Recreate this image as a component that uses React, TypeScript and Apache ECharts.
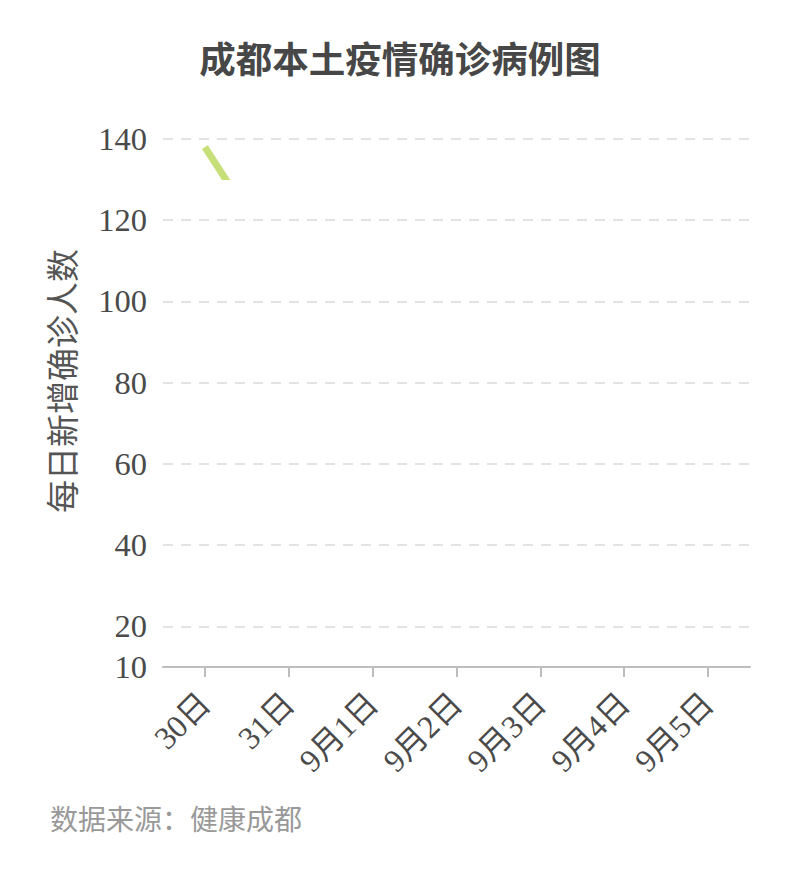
import React, { useEffect, useRef } from 'react';
import * as echarts from 'echarts';

const dates = ['30日', '31日', '9月1日', '9月2日', '9月3日', '9月4日', '9月5日'];
const dailyCases = [138, 106, 104, 105, 72, 90, 59];
const yMin = 10;
const yMax = 140;

const SERIF = '"Liberation Serif", "Noto Sans CJK SC", serif';

export default function App() {
  const chartRef = useRef<HTMLDivElement>(null);

  useEffect(() => {
    if (!chartRef.current) return;
    document.body.style.margin = '0';
    const chart = echarts.init(chartRef.current, undefined, { renderer: 'svg' });

    const option: echarts.EChartsOption = {
      animation: false,
      backgroundColor: '#fff',
      title: {
        text: '成都本土疫情确诊病例图',
        left: 'center',
        top: 34,
        textStyle: {
          fontFamily: '"Noto Sans CJK SC", sans-serif',
          fontSize: 36.5,
          fontWeight: 'bold',
          color: '#474747',
        },
      },
      grid: { left: 163, right: 50, top: 139, bottom: 218 },
      xAxis: {
        type: 'category',
        data: dates,
        boundaryGap: true,
        axisLine: { show: true, lineStyle: { color: '#bdbdbd', width: 2 } },
        axisTick: {
          show: true,
          alignWithLabel: true,
          length: 10,
          lineStyle: { color: '#bdbdbd', width: 2 },
        },
        axisLabel: {
          interval: 0,
          rotate: 45,
          margin: 31,
          fontSize: 32,
          color: '#4a4a4a',
          fontFamily: SERIF,
        },
      },
      yAxis: {
        type: 'value',
        min: yMin,
        max: yMax,
        minInterval: 20,
        maxInterval: 20,
        name: '每日新增确诊人数',
        nameLocation: 'middle',
        nameRotate: 90,
        nameGap: 86,
        nameTextStyle: {
          fontFamily: '"Noto Sans CJK SC", sans-serif',
          fontSize: 33,
          color: '#555',
          padding: [0, 0, 0, 44],
        },
        axisLine: { show: false },
        axisTick: { show: false },
        axisLabel: {
          margin: 16,
          fontSize: 32.5,
          color: '#4a4a4a',
          fontFamily: SERIF,
        },
        splitLine: {
          lineStyle: { color: '#e3e3e3', width: 2, type: [10, 8] },
        },
      },
      visualMap: {
        show: false,
        type: 'piecewise',
        dimension: 1,
        seriesIndex: 0,
        pieces: [
          { gte: 130, lte: 200, color: '#c7df79' },
          { gte: 0, lt: 130, color: 'rgba(255,255,255,0)' },
        ],
      },
      series: [
        {
          type: 'line',
          data: dailyCases,
          showSymbol: false,
          lineStyle: { width: 7 },
        },
      ],
      graphic: [
        {
          type: 'text',
          left: 50,
          top: 804,
          style: {
            text: '数据来源：健康成都',
            fontFamily: '"Noto Sans CJK SC", sans-serif',
            fontSize: 28,
            fill: '#999',
          },
        },
      ],
    };

    chart.setOption(option);
    return () => chart.dispose();
  }, []);

  return <div ref={chartRef} style={{ width: 800, height: 885 }} />;
}
